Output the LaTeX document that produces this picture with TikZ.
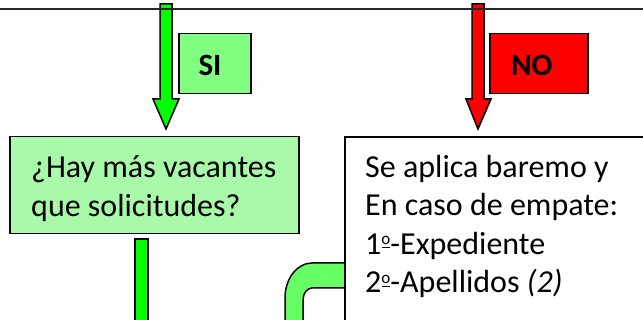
\documentclass[tikz,border=0pt]{standalone}
\usepackage{fontspec}
\setmainfont{Carlito}
\definecolor{arrG}{RGB}{0,255,0}
\definecolor{arrR}{RGB}{255,0,0}
\definecolor{boxG}{RGB}{168,250,168}
\definecolor{siG}{RGB}{128,255,128}
\definecolor{pipeG}{RGB}{102,255,102}
\definecolor{lineGray}{RGB}{40,40,40}
\newcommand\myordo{\rlap{\hspace{0.4pt}\rule[6pt]{8.4pt}{1.3pt}}\raisebox{9.5pt}{\fontsize{17}{17}\selectfont o}}
\begin{document}
\begin{tikzpicture}[x=1pt,y=-1pt,
  txt/.style={anchor=base west,inner sep=0pt,font=\fontsize{32}{38}\selectfont},
  lbl/.style={anchor=base,inner sep=0pt,font=\fontsize{31}{36}\selectfont\bfseries},
  boxline/.style={draw=black,line width=1.5pt},
  rectbox/.style={boxline,rectangle,inner sep=0pt,anchor=north west}]
\useasboundingbox (0,0) rectangle (643,320);
\clip (0,0) rectangle (643,320);
% green arrow (SI)
\draw[boxline,fill=arrG,line join=miter] (160,4) -- (172,4) -- (172,99) -- (179,99) -- (166,129) -- (153,99) -- (160,99) -- cycle;
% red arrow (NO)
\draw[boxline,fill=arrR,line join=miter] (472,4) -- (484,4) -- (484,99) -- (491,99) -- (478,129) -- (466,99) -- (472,99) -- cycle;
% top line
\draw[lineGray,line width=2pt] (-5,9) -- (650,9);
% SI / NO labels
\node[rectbox,fill=siG,minimum width=72pt,minimum height=60pt] (si) at (178,33) {};
\node[lbl] (sit) at (210,75.5) {SI};
\node[rectbox,fill=arrR,minimum width=98pt,minimum height=60pt] (no) at (489,33) {};
\node[lbl] (not) at (532,75.5) {NO};
% question box
\node[rectbox,fill=boxG,minimum width=289pt,minimum height=97pt] (q) at (9,136) {};
\node[txt] (q1) at (31,178) {¿Hay más vacantes};
\node[txt] (q2) at (31,216.7) {que solicitudes?};
% lower green bar
\draw[boxline,fill=arrG] (135,239) rectangle (148,340);
% green pipe
\draw[boxline,fill=pipeG] (348,263) -- (312,263) arc[start angle=270,end angle=180,x radius=27,y radius=35] -- (285,340) -- (303,340) -- (303,300) arc[start angle=180,end angle=270,x radius=9,y radius=12] -- (348,288) -- cycle;
% white box
\node[rectbox,fill=white,line width=2pt,minimum width=400pt,minimum height=300pt] (w) at (344,136) {};
\node[txt] (w1) at (365,177.3) {Se aplica baremo y};
\node[txt] (w2) at (365,215.8) {En caso de empate:};
\node[txt] (w3) at (365,254.5) {1\myordo-Expediente};
\node[txt] (w4) at (365,293) {2\myordo-Apellidos \textit{(2)}};
\end{tikzpicture}
\end{document}
